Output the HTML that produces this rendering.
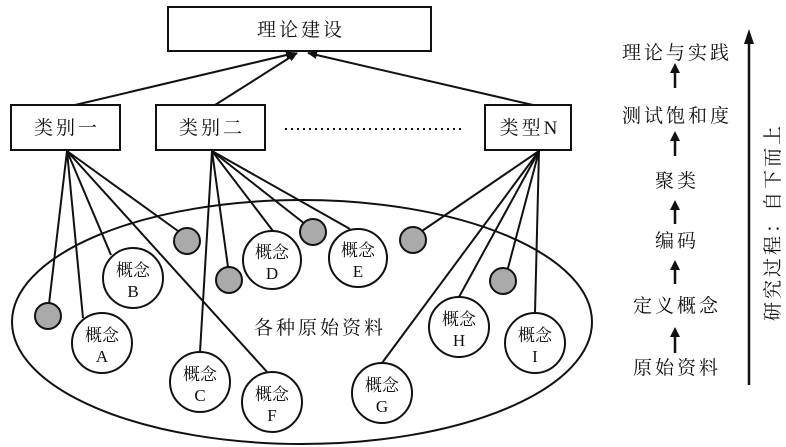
<!DOCTYPE html>
<html><head><meta charset="utf-8"><style>
html,body{margin:0;padding:0;background:#fff;}
svg{display:block;}
text{font-family:"Liberation Serif","Noto Serif CJK SC",serif;fill:#111;}
</style></head><body>
<svg width="786" height="447" viewBox="0 0 786 447" xmlns="http://www.w3.org/2000/svg">
<defs>
<marker id="ah" markerWidth="10" markerHeight="8" refX="9" refY="4" orient="auto" markerUnits="userSpaceOnUse">
<path d="M0,0 L10,4 L0,8 Z" fill="#111"/></marker>
</defs>
<g stroke="#111" stroke-width="2" fill="none">
<ellipse cx="302" cy="322" rx="290" ry="122"/>
<rect x="168" y="7" width="263" height="44" fill="#fff"/>
<rect x="11" y="105" width="109" height="45" fill="#fff"/>
<rect x="156" y="105" width="109" height="45" fill="#fff"/>
<rect x="485" y="105" width="86" height="45" fill="#fff"/>
<line x1="75" y1="105" x2="295" y2="53" marker-end="url(#ah)"/>
<line x1="215" y1="105" x2="297" y2="53" marker-end="url(#ah)"/>
<line x1="533" y1="105" x2="308" y2="53" marker-end="url(#ah)"/>
<!-- fans -->
<line x1="67" y1="151" x2="49" y2="304"/>
<line x1="67" y1="151" x2="83" y2="318"/>
<line x1="67" y1="151" x2="111" y2="255"/>
<line x1="67" y1="151" x2="178" y2="231"/>
<line x1="67" y1="151" x2="268" y2="373"/>
<line x1="212" y1="151" x2="200" y2="352"/>
<line x1="212" y1="151" x2="228" y2="267"/>
<line x1="212" y1="151" x2="273" y2="231"/>
<line x1="212" y1="151" x2="305" y2="224"/>
<line x1="212" y1="151" x2="350" y2="229"/>
<line x1="539" y1="151" x2="422" y2="231"/>
<line x1="539" y1="151" x2="382" y2="363"/>
<line x1="539" y1="151" x2="459" y2="297"/>
<line x1="539" y1="151" x2="508" y2="268"/>
<line x1="539" y1="151" x2="535" y2="313"/>
</g>
<line x1="285" y1="129" x2="463" y2="129" stroke="#111" stroke-width="2" stroke-dasharray="2,4"/>
<g stroke="#111" stroke-width="2" fill="#aaa">
<circle cx="48" cy="316" r="13"/>
<circle cx="187" cy="241" r="13"/>
<circle cx="229" cy="280" r="13"/>
<circle cx="313" cy="232" r="13"/>
<circle cx="413" cy="240" r="13"/>
<circle cx="503" cy="281" r="13"/>
</g>
<g stroke="#111" stroke-width="2" fill="#fff">
<circle cx="133" cy="278" r="30"/>
<circle cx="102" cy="343" r="30"/>
<circle cx="200" cy="382" r="30"/>
<circle cx="272" cy="402" r="30"/>
<circle cx="272" cy="260" r="29"/>
<circle cx="358" cy="258" r="29"/>
<circle cx="382" cy="393" r="30"/>
<circle cx="459" cy="327" r="30"/>
<circle cx="535" cy="343" r="30"/>
</g>
<g font-size="17" text-anchor="middle">
<text x="133" y="276">概念</text><text x="133" y="297">B</text>
<text x="102" y="341">概念</text><text x="102" y="362">A</text>
<text x="200" y="380">概念</text><text x="200" y="401">C</text>
<text x="272" y="400">概念</text><text x="272" y="421">F</text>
<text x="272" y="258">概念</text><text x="272" y="279">D</text>
<text x="358" y="256">概念</text><text x="358" y="277">E</text>
<text x="382" y="391">概念</text><text x="382" y="412">G</text>
<text x="459" y="325">概念</text><text x="459" y="346">H</text>
<text x="535" y="341">概念</text><text x="535" y="362">I</text>
</g>
<g font-size="19" text-anchor="middle" letter-spacing="3">
<text x="301" y="36">理论建设</text>
<text x="67" y="134">类别一</text>
<text x="212" y="134">类别二</text>
<text x="530" y="134">类型N</text>
<text x="320" y="334">各种原始资料</text>
<text x="677" y="59">理论与实践</text>
<text x="677" y="122">测试饱和度</text>
<text x="677" y="187">聚类</text>
<text x="677" y="247">编码</text>
<text x="677" y="312">定义概念</text>
<text x="677" y="374">原始资料</text>
<text x="0" y="0" transform="translate(779,222) rotate(-90)">研究过程：自下而上</text>
</g>
<g stroke="#111" stroke-width="2.5">
<line x1="675" y1="88" x2="675" y2="70"/>
<line x1="675" y1="156" x2="675" y2="138"/>
<line x1="675" y1="224" x2="675" y2="207"/>
<line x1="675" y1="284" x2="675" y2="267"/>
<line x1="675" y1="353" x2="675" y2="334"/>
<line x1="749" y1="385" x2="749" y2="40"/>
</g>
<g fill="#111">
<path d="M675,63 L670,73 L680,73 Z"/>
<path d="M675,131 L670,141 L680,141 Z"/>
<path d="M675,200 L670,210 L680,210 Z"/>
<path d="M675,260 L670,270 L680,270 Z"/>
<path d="M675,327 L670,337 L680,337 Z"/>
<path d="M749,29 L744,44 L754,44 Z"/>
</g>
</svg>
</body></html>
